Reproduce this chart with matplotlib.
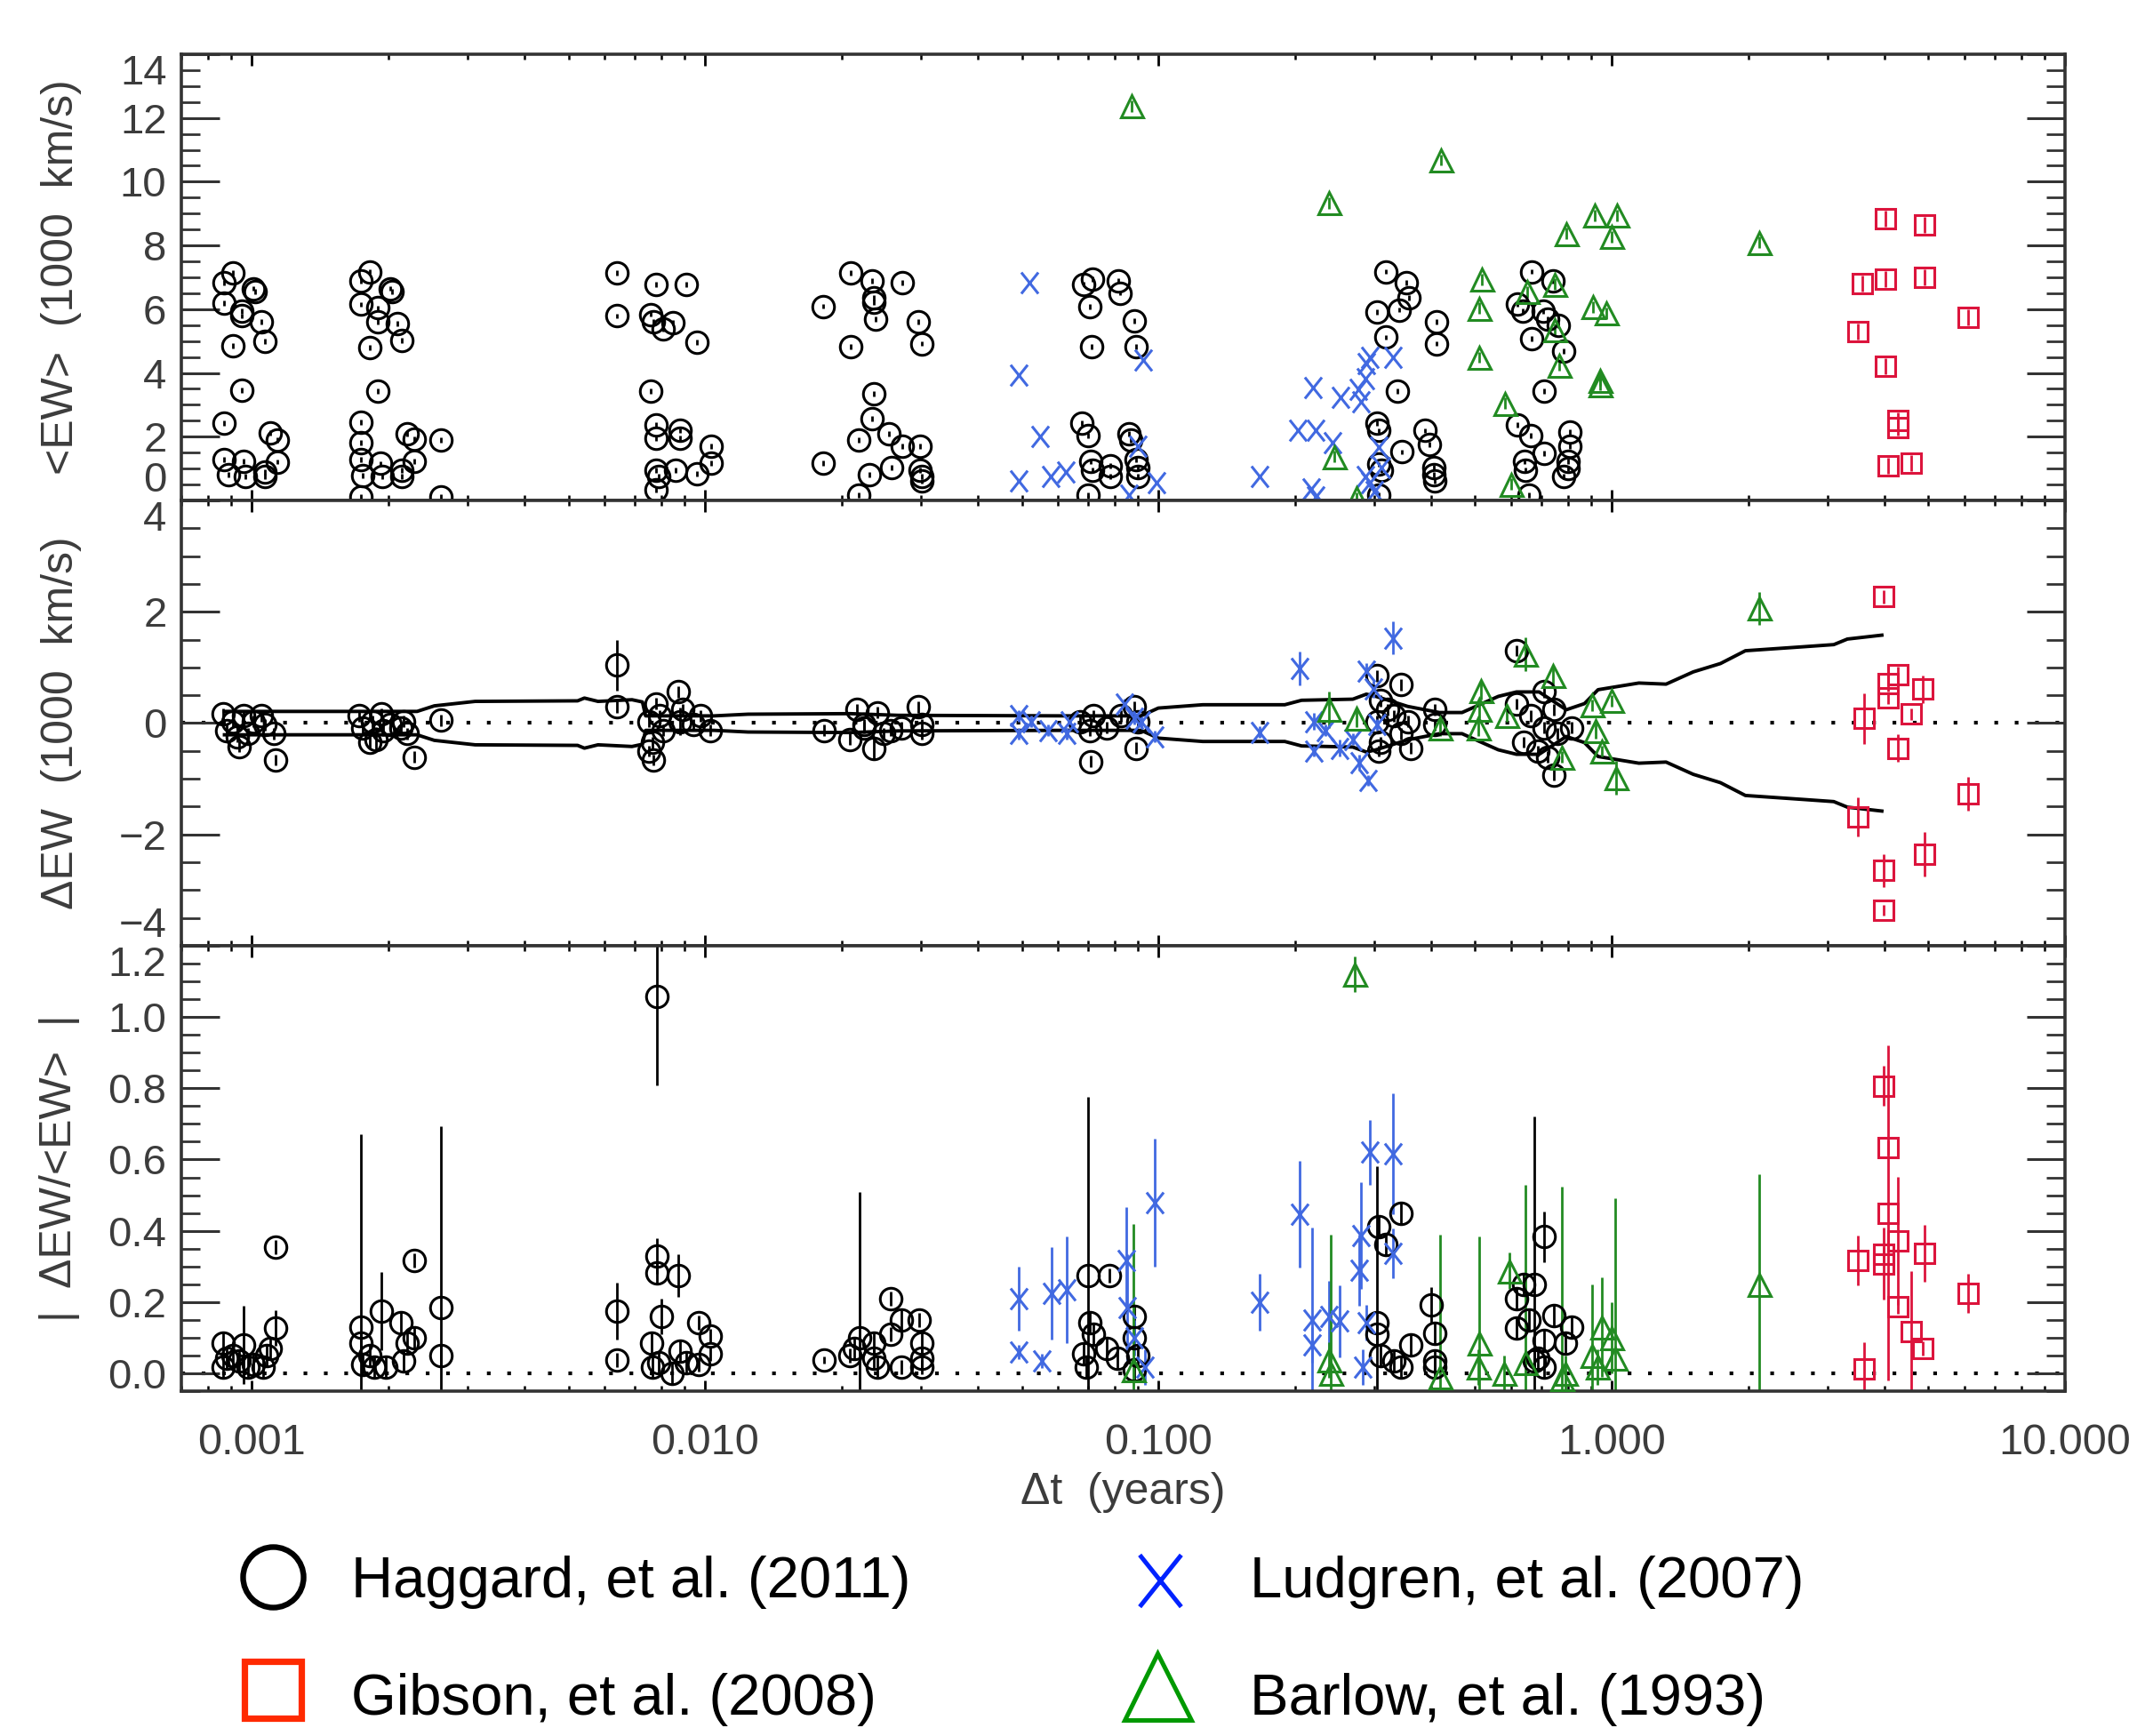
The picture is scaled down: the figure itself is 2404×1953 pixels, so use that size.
import matplotlib
matplotlib.use('Agg')
import matplotlib.pyplot as plt
from matplotlib.path import Path
from matplotlib.lines import Line2D
from matplotlib.ticker import MultipleLocator, LogLocator, NullFormatter
import numpy as np

# ---------------------------------------------------------------- data
# (dt [years], <EW> [1000 km/s])
HAGGARD_EW = [
    (0.00087, 6.84), (0.00091, 7.13), (0.00087, 6.19), (0.00101, 6.65), (0.00102, 6.55),
    (0.00095, 5.93), (0.00095, 5.79), (0.00105, 5.60), (0.00091, 4.86), (0.00107, 5.00),
    (0.00095, 3.45), (0.00087, 2.43), (0.00110, 2.12), (0.00114, 1.90), (0.00087, 1.28),
    (0.00096, 1.23), (0.00089, 0.80), (0.00097, 0.75), (0.00107, 0.89), (0.00107, 0.75),
    (0.00114, 1.21),
    (0.00174, 6.89), (0.00182, 7.18), (0.00174, 6.15), (0.00202, 6.65), (0.00204, 6.55),
    (0.00190, 6.04), (0.00190, 5.61), (0.00210, 5.55), (0.00182, 4.80), (0.00214, 5.02),
    (0.00190, 3.44), (0.00174, 2.45), (0.00220, 2.09), (0.00228, 1.92), (0.00262, 1.90),
    (0.00174, 1.82), (0.00174, 1.28), (0.00192, 1.16), (0.00176, 0.78), (0.00194, 0.75),
    (0.00214, 0.94), (0.00214, 0.75), (0.00228, 1.23), (0.00174, 0.12), (0.00262, 0.12),
    (0.0064, 7.13), (0.0064, 5.79), (0.0078, 6.77), (0.0091, 6.77), (0.0076, 5.84),
    (0.0077, 5.60), (0.0081, 5.37), (0.0085, 5.58), (0.0096, 4.97), (0.0076, 3.42),
    (0.0078, 2.38), (0.0078, 1.95), (0.0088, 2.19), (0.0088, 1.95), (0.0078, 0.94),
    (0.0079, 0.75), (0.0086, 0.94), (0.0096, 0.83), (0.0078, 0.34), (0.0103, 1.71),
    (0.0103, 1.18),
    (0.0210, 7.13), (0.0234, 6.89), (0.0272, 6.84), (0.0182, 6.09), (0.0236, 6.36),
    (0.0236, 6.22), (0.0238, 5.69), (0.0295, 5.60), (0.0210, 4.83), (0.0301, 4.92),
    (0.0236, 3.34), (0.0234, 2.57), (0.0218, 1.90), (0.0255, 2.09), (0.0272, 1.71),
    (0.0298, 1.71), (0.0182, 1.18), (0.0258, 1.04), (0.0231, 0.80), (0.0298, 0.94),
    (0.0301, 0.75), (0.0301, 0.60), (0.0218, 0.17),
    (0.0684, 6.79), (0.0716, 6.94), (0.0815, 6.89), (0.0822, 6.51), (0.0706, 6.08),
    (0.0885, 5.64), (0.0713, 4.83), (0.0893, 4.83), (0.0678, 2.43), (0.0700, 2.04),
    (0.0861, 2.09), (0.0870, 1.90), (0.0710, 1.23), (0.0715, 0.94), (0.0785, 1.08),
    (0.0785, 0.75), (0.0893, 1.28), (0.0900, 1.04), (0.0900, 0.75), (0.0700, 0.17),
    (0.318, 7.18), (0.352, 6.84), (0.357, 6.36), (0.304, 5.91), (0.340, 5.98),
    (0.411, 5.60), (0.318, 5.12), (0.411, 4.92), (0.337, 3.44), (0.304, 2.43),
    (0.307, 2.19), (0.387, 2.19), (0.396, 1.76), (0.344, 1.52), (0.307, 1.13),
    (0.310, 0.94), (0.405, 1.04), (0.405, 0.80), (0.408, 0.60), (0.307, 0.17),
    (0.667, 7.18), (0.741, 6.89), (0.619, 6.17), (0.637, 5.93), (0.705, 5.93),
    (0.721, 5.69), (0.762, 5.50), (0.667, 5.07), (0.783, 4.68), (0.708, 3.44),
    (0.619, 2.38), (0.664, 2.04), (0.807, 2.14), (0.807, 1.71), (0.708, 1.47),
    (0.643, 1.23), (0.646, 0.94), (0.800, 1.23), (0.800, 0.99), (0.783, 0.75),
    (0.658, 0.17),
]
LUDGREN_EW = [
    (0.0519, 6.84), (0.0493, 3.92), (0.0548, 2.00), (0.0493, 0.60), (0.0579, 0.75),
    (0.0624, 0.89), (0.0927, 4.40), (0.0902, 1.71), (0.0861, 0.17), (0.0991, 0.56),
    (0.167, 0.75), (0.219, 3.53), (0.252, 3.24), (0.280, 3.10), (0.276, 3.48),
    (0.286, 3.82), (0.293, 4.49), (0.329, 4.49), (0.288, 4.30), (0.203, 2.19),
    (0.222, 2.19), (0.242, 1.80), (0.217, 0.36), (0.222, 0.12), (0.286, 0.75),
    (0.293, 0.56), (0.300, 0.27), (0.307, 1.66), (0.310, 1.04),
]
BARLOW_EW = [
    (0.0873, 12.38), (0.238, 9.34), (0.421, 10.68), (0.918, 8.95), (1.026, 8.95),
    (0.793, 8.38), (0.998, 8.28), (2.118, 8.09), (0.518, 6.94), (0.750, 6.79),
    (0.652, 6.55), (0.511, 6.03), (0.910, 6.07), (0.975, 5.88), (0.511, 4.49),
    (0.767, 4.25), (0.944, 3.77), (0.944, 3.63), (0.581, 3.05), (0.244, 1.37),
    (0.600, 0.51), (0.274, 0.08), (0.750, 5.36),
]
GIBSON_EW = [
    (4.01, 8.83), (4.89, 8.65), (3.57, 6.81), (4.01, 6.94), (4.89, 6.99),
    (6.11, 5.74), (3.49, 5.31), (4.01, 4.20), (4.28, 2.52), (4.28, 2.28),
    (4.08, 1.08), (4.58, 1.18),
]
EW_ERR = {'haggard': 0.08, 'ludgren': 0.0, 'barlow': 0.18, 'gibson': 0.25}

# (dt, dEW [1000 km/s], error)
HAGGARD_DEW = [
    (0.000865, 0.16, 0.1), (0.00088, -0.13, 0.1), (0.00091, 0.03, 0.1), (0.00094, -0.42, 0.1),
    (0.00096, 0.13, 0.1), (0.00098, -0.19, 0.1), (0.00101, 0.03, 0.1), (0.00105, 0.13, 0.1),
    (0.00107, -0.03, 0.1), (0.00112, -0.19, 0.1), (0.00113, -0.66, 0.1), (0.00093, -0.24, 0.1),
    (0.00173, 0.13, 0.1), (0.00176, -0.08, 0.1), (0.00182, -0.35, 0.1), (0.00185, 0.03, 0.1),
    (0.00193, 0.16, 0.1), (0.00195, -0.13, 0.1), (0.00202, -0.03, 0.1), (0.00216, 0.03, 0.1),
    (0.00220, -0.19, 0.1), (0.00228, -0.61, 0.1), (0.00262, 0.05, 0.1), (0.00213, -0.08, 0.1),
    (0.00188, -0.29, 0.22),
    (0.0064, 1.04, 0.45), (0.0064, 0.29, 0.1), (0.00753, 0.03, 0.1), (0.00766, -0.35, 0.1),
    (0.0078, 0.35, 0.1), (0.00771, -0.66, 0.1), (0.00793, 0.13, 0.1), (0.00807, -0.13, 0.1),
    (0.00873, 0.56, 0.1), (0.00879, 0.03, 0.25), (0.00895, 0.24, 0.1), (0.00942, -0.03, 0.1),
    (0.00976, 0.13, 0.1), (0.01028, -0.13, 0.1), (0.00753, -0.50, 0.1),
    (0.0183, -0.13, 0.1), (0.0209, -0.29, 0.1), (0.0216, 0.24, 0.1), (0.0224, -0.03, 0.1),
    (0.0236, -0.45, 0.2), (0.0240, 0.19, 0.1), (0.0248, -0.19, 0.1), (0.0257, -0.13, 0.1),
    (0.0271, -0.08, 0.1), (0.0296, 0.29, 0.1), (0.0301, -0.03, 0.1), (0.0301, -0.19, 0.1),
    (0.0224, -0.08, 0.1),
    (0.0671, 0.03, 0.1), (0.0706, -0.13, 0.1), (0.0711, -0.69, 0.1), (0.0719, 0.13, 0.1),
    (0.0771, -0.08, 0.1), (0.0826, 0.13, 0.1), (0.0885, 0.29, 0.1), (0.0895, -0.45, 0.1),
    (0.0902, 0.03, 0.1),
    (0.303, 0.85, 0.1), (0.343, 0.69, 0.1), (0.309, 0.40, 0.1), (0.320, 0.24, 0.1),
    (0.331, 0.13, 0.1), (0.303, 0.03, 0.1), (0.355, 0.03, 0.1), (0.309, -0.34, 0.1),
    (0.306, -0.50, 0.1), (0.343, -0.19, 0.1), (0.361, -0.45, 0.1), (0.407, 0.24, 0.1),
    (0.407, -0.03, 0.1),
    (0.618, 1.30, 0.1), (0.710, 0.56, 0.1), (0.618, 0.34, 0.1), (0.662, 0.13, 0.1),
    (0.710, -0.08, 0.1), (0.746, 0.24, 0.1), (0.640, -0.34, 0.1), (0.686, -0.50, 0.1),
    (0.760, -0.19, 0.1), (0.815, -0.08, 0.1), (0.746, -0.93, 0.1), (0.721, -0.61, 0.1),
]
LUDGREN_DEW = [
    (0.0492, 0.13, 0.1), (0.0492, -0.19, 0.1), (0.0524, 0.03, 0.1), (0.0570, -0.13, 0.1),
    (0.0627, -0.19, 0.1), (0.0637, 0.03, 0.1), (0.0841, 0.34, 0.1), (0.0885, 0.08, 0.1),
    (0.0982, -0.24, 0.1), (0.0917, 0.03, 0.1),
    (0.167, -0.16, 0.1), (0.205, 0.98, 0.3), (0.220, 0.03, 0.15), (0.220, -0.50, 0.1),
    (0.251, -0.45, 0.15), (0.234, -0.13, 0.1), (0.288, 0.93, 0.15), (0.298, 0.61, 0.15),
    (0.329, 1.53, 0.3), (0.278, -0.71, 0.15), (0.290, -1.03, 0.1), (0.269, -0.29, 0.1),
    (0.303, -0.03, 0.1),
]
BARLOW_DEW = [
    (0.238, 0.24, 0.32), (0.274, 0.08, 0.15), (2.113, 2.06, 0.3), (0.646, 1.24, 0.3),
    (0.741, 0.85, 0.15), (0.515, 0.58, 0.15), (0.511, 0.24, 0.15), (0.507, -0.08, 0.15),
    (0.586, 0.13, 0.1), (0.904, 0.32, 0.1), (0.998, 0.40, 0.1), (0.920, -0.13, 0.15),
    (0.953, -0.50, 0.1), (0.775, -0.61, 0.1), (1.021, -0.98, 0.3), (0.419, -0.08, 0.15),
]
GIBSON_DEW = [
    (3.99, 2.27, 0.12), (4.08, 0.71, 0.15), (4.28, 0.87, 0.15), (4.08, 0.45, 0.1),
    (4.86, 0.61, 0.25), (4.58, 0.16, 0.1), (3.60, 0.08, 0.45), (4.28, -0.45, 0.25),
    (6.10, -1.27, 0.3), (3.50, -1.69, 0.35), (4.90, -2.35, 0.4), (3.99, -2.65, 0.3),
    (3.99, -3.36, 0.1),
]
# envelope of the Haggard variability (dt, half width)
ENV_DT = [0.000871, 0.002317, 0.002529, 0.003112, 0.005236, 0.005420, 0.005808,
          0.006902, 0.007278, 0.007396, 0.010471, 0.012445, 0.020893, 0.026669,
          0.063096, 0.091622, 0.1, 0.125314, 0.190108, 0.207014, 0.268534, 0.287740,
          0.301995, 0.354813, 0.416869, 0.467735, 0.562341, 0.616595, 0.691831,
          0.794328, 0.870964, 0.933254, 1.148154, 1.318257, 1.513561, 1.737801,
          1.972423, 2.630268, 3.090295, 3.311311, 3.944573]
ENV_HALF = [0.21, 0.21, 0.31, 0.39, 0.40, 0.45, 0.39, 0.42, 0.38, 0.13, 0.13, 0.16,
            0.17, 0.14, 0.13, 0.13, 0.27, 0.33, 0.33, 0.41, 0.43, 0.52, 0.48, 0.30,
            0.19, 0.19, 0.48, 0.56, 0.56, 0.24, 0.35, 0.60, 0.72, 0.70, 0.92, 1.07,
            1.30, 1.37, 1.41, 1.51, 1.58]

# (dt, |dEW/<EW>|, error)
HAGGARD_FRAC = [
    (0.000865, 0.084, 0.03), (0.000865, 0.017, 0.03), (0.00088, 0.042, 0.03), (0.00091, 0.050, 0.03),
    (0.00094, 0.034, 0.03), (0.00096, 0.080, 0.11), (0.00098, 0.017, 0.03), (0.00101, 0.026, 0.03),
    (0.00106, 0.017, 0.03), (0.00108, 0.050, 0.03), (0.00110, 0.071, 0.03), (0.00113, 0.126, 0.05),
    (0.00113, 0.354, 0.02),
    (0.00174, 0.130, 0.54), (0.00174, 0.084, 0.03), (0.00176, 0.026, 0.03), (0.00182, 0.050, 0.03),
    (0.00186, 0.017, 0.03), (0.00193, 0.175, 0.11), (0.00198, 0.017, 0.03), (0.00213, 0.142, 0.03),
    (0.00216, 0.034, 0.03), (0.00220, 0.084, 0.03), (0.00228, 0.100, 0.03), (0.00228, 0.317, 0.02),
    (0.00262, 0.184, 0.51), (0.00262, 0.050, 0.03),
    (0.0064, 0.175, 0.08), (0.0064, 0.038, 0.02), (0.00785, 1.059, 0.25), (0.00785, 0.330, 0.05),
    (0.00785, 0.283, 0.03), (0.0080, 0.159, 0.05), (0.00762, 0.084, 0.03), (0.00766, 0.017, 0.03),
    (0.0079, 0.030, 0.03), (0.00847, 0.000, 0.03), (0.00873, 0.275, 0.06), (0.00879, 0.063, 0.03),
    (0.0091, 0.030, 0.03), (0.0097, 0.142, 0.02), (0.0097, 0.026, 0.02), (0.01028, 0.105, 0.02),
    (0.01028, 0.055, 0.02),
    (0.0183, 0.038, 0.01), (0.0209, 0.050, 0.02), (0.0213, 0.071, 0.03), (0.0219, 0.100, 0.41),
    (0.0236, 0.084, 0.03), (0.0236, 0.042, 0.03), (0.0240, 0.017, 0.03), (0.0257, 0.209, 0.02),
    (0.0257, 0.109, 0.02), (0.0271, 0.150, 0.03), (0.0271, 0.017, 0.02), (0.0297, 0.150, 0.02),
    (0.0301, 0.084, 0.03), (0.0301, 0.042, 0.03), (0.0301, 0.017, 0.02),
    (0.0700, 0.275, 0.50), (0.0779, 0.275, 0.02), (0.0707, 0.142, 0.03), (0.0719, 0.109, 0.03),
    (0.0683, 0.055, 0.03), (0.0695, 0.017, 0.03), (0.0771, 0.071, 0.03), (0.0812, 0.042, 0.03),
    (0.0885, 0.159, 0.03), (0.0885, 0.100, 0.03), (0.0902, 0.050, 0.03), (0.0885, 0.010, 0.03),
    (0.306, 0.412, 0.03), (0.318, 0.362, 0.03), (0.343, 0.450, 0.03), (0.303, 0.142, 0.44),
    (0.303, 0.109, 0.03), (0.309, 0.050, 0.03), (0.331, 0.034, 0.03), (0.361, 0.080, 0.03),
    (0.343, 0.017, 0.03), (0.400, 0.192, 0.05), (0.407, 0.113, 0.03), (0.407, 0.034, 0.03),
    (0.407, 0.017, 0.03),
    (0.710, 0.383, 0.07), (0.674, 0.250, 0.47), (0.640, 0.250, 0.03), (0.618, 0.209, 0.03),
    (0.618, 0.126, 0.03), (0.656, 0.150, 0.03), (0.746, 0.163, 0.03), (0.815, 0.130, 0.03),
    (0.710, 0.092, 0.03), (0.686, 0.042, 0.03), (0.790, 0.084, 0.03), (0.710, 0.017, 0.03),
    (0.674, 0.034, 0.03),
]
LUDGREN_FRAC = [
    (0.0492, 0.209, 0.09), (0.0492, 0.059, 0.02), (0.0554, 0.034, 0.02), (0.0582, 0.225, 0.13),
    (0.0627, 0.234, 0.15), (0.0849, 0.317, 0.15), (0.0983, 0.479, 0.18), (0.0855, 0.184, 0.15),
    (0.0885, 0.100, 0.05), (0.0933, 0.017, 0.05),
    (0.167, 0.200, 0.08), (0.205, 0.446, 0.15), (0.218, 0.150, 0.26), (0.218, 0.080, 0.05),
    (0.238, 0.159, 0.10), (0.251, 0.146, 0.10), (0.278, 0.290, 0.10), (0.280, 0.387, 0.15),
    (0.293, 0.620, 0.09), (0.329, 0.616, 0.17), (0.330, 0.337, 0.07), (0.288, 0.142, 0.05),
    (0.283, 0.017, 0.05),
]
BARLOW_FRAC = [
    (0.271, 1.119, 0.05), (2.113, 0.250, 0.31), (0.596, 0.288, 0.05), (0.238, 0.038, 0.05),
    (0.240, 0.000, 0.39), (0.088, 0.010, 0.41), (0.510, 0.084, 0.30), (0.507, 0.017, 0.05),
    (0.578, 0.000, 0.05), (0.419, -0.010, 0.40), (0.904, 0.050, 0.20), (0.953, 0.130, 0.14),
    (1.000, 0.100, 0.10), (1.020, 0.042, 0.45), (0.930, 0.017, 0.05), (0.790, 0.000, 0.05),
    (0.775, -0.016, 0.54), (0.645, 0.030, 0.50),
]
GIBSON_FRAC = [
    (3.99, 0.807, 0.055), (4.08, 0.633, 0.02), (4.08, 0.450, 0.47), (4.28, 0.371, 0.18),
    (3.99, 0.333, 0.02), (3.99, 0.308, 0.10), (3.50, 0.317, 0.07), (4.90, 0.337, 0.08),
    (4.28, 0.188, 0.02), (4.58, 0.117, 0.17), (4.86, 0.069, 0.02), (6.10, 0.224, 0.055),
    (3.60, 0.012, 0.075),
]

X_TICKS = [0.001, 0.01, 0.1, 1, 10]
X_LABELS = ['0.001', '0.010', '0.100', '1.000', '10.000']
LEGEND = [('haggard', 'Haggard, et al. (2011)'), ('gibson', 'Gibson, et al. (2008)'),
          ('ludgren', 'Ludgren, et al. (2007)'), ('barlow', 'Barlow, et al. (1993)')]

# ---------------------------------------------------------------- style
FONT = 'Liberation Sans'
GREY = '#3c3c3c'
X_MARK = Path([(-0.8, -1), (0.8, 1), (-0.8, 1), (0.8, -1)],
              [Path.MOVETO, Path.LINETO, Path.MOVETO, Path.LINETO])
STYLE = {
    'haggard': dict(marker='o', color='black', ms=8.8),
    'ludgren': dict(marker=X_MARK, color='#4169e1', ms=8.6),
    'barlow': dict(marker='^', color='#228b22', ms=9.0),
    'gibson': dict(marker='s', color='#dc143c', ms=7.8),
}
LEG_STYLE = {
    'haggard': dict(marker='o', color='black', ms=24.5, mew=2.3),
    'gibson': dict(marker='s', color='#ff2a00', ms=23, mew=2.6),
    'ludgren': dict(marker=X_MARK, color='#0022ff', ms=21, mew=1.8),
    'barlow': dict(marker='^', color='#009900', ms=27, mew=1.8),
}


def draw(ax, pts, key, err=None):
    arr = np.array(pts, dtype=float)
    dt, val = arr[:, 0], arr[:, 1]
    yerr = arr[:, 2] if arr.shape[1] > 2 else np.full(len(dt), err)
    st = STYLE[key]
    if np.any(yerr > 0):
        ax.errorbar(dt, val, yerr=yerr, fmt='none', ecolor=st['color'],
                    elinewidth=1.0, capsize=0, zorder=2)
    ax.plot(dt, val, linestyle='none', marker=st['marker'], ms=st['ms'],
            mfc='none', mec=st['color'], mew=1.1, zorder=3)


fig = plt.figure(figsize=(12.02, 9.765), dpi=200)
L, R = 0.0849, 0.9663
edges = [0.96877, 0.71173, 0.45520, 0.19867]
axes = [fig.add_axes([L, edges[i + 1], R - L, edges[i] - edges[i + 1]]) for i in range(3)]

for ax in axes:
    ax.set_xscale('log')
    ax.set_xlim(7e-4, 10)
    ax.set_xticks(X_TICKS)
    ax.set_xticklabels(X_LABELS)
    ax.xaxis.set_minor_locator(LogLocator(base=10, subs=np.arange(2, 10)))
    ax.xaxis.set_minor_formatter(NullFormatter())
    ax.tick_params(axis='y', which='major', direction='in', length=15.5, width=1.1,
                   left=True, right=True, labelsize=17, labelcolor=GREY, pad=6, color='#333333')
    ax.tick_params(axis='y', which='minor', direction='in', length=7.6, width=1.0,
                   left=True, right=True, color='#333333')
    ax.tick_params(axis='x', which='major', direction='in', length=4.5, width=1.0,
                   top=True, bottom=True, labelsize=17.5, labelcolor=GREY, pad=13)
    ax.tick_params(axis='x', which='minor', direction='in', length=2.3, width=0.9,
                   top=True, bottom=True)
    for sp in ax.spines.values():
        sp.set_linewidth(1.3)
        sp.set_color('#333333')
for ax in axes[:2]:
    ax.tick_params(axis='x', labelbottom=False)

# top: <EW>
ax = axes[0]
draw(ax, HAGGARD_EW, 'haggard', EW_ERR['haggard'])
draw(ax, LUDGREN_EW, 'ludgren', EW_ERR['ludgren'])
draw(ax, BARLOW_EW, 'barlow', EW_ERR['barlow'])
draw(ax, GIBSON_EW, 'gibson', EW_ERR['gibson'])
ax.set_ylim(0, 14)
ax.set_yticks(np.arange(0, 15, 2))
ax.yaxis.set_minor_locator(MultipleLocator(0.5))

# middle: dEW
ax = axes[1]
ax.axhline(0, color='black', lw=1.5, ls=(0, (1, 4.5)), zorder=1)
env_dt = np.array(ENV_DT)
env_half = np.array(ENV_HALF)
ax.plot(env_dt, env_half, color='black', lw=1.4, zorder=2)
ax.plot(env_dt, -env_half, color='black', lw=1.4, zorder=2)
draw(ax, HAGGARD_DEW, 'haggard')
draw(ax, LUDGREN_DEW, 'ludgren')
draw(ax, BARLOW_DEW, 'barlow')
draw(ax, GIBSON_DEW, 'gibson')
ax.set_ylim(-4, 4)
ax.set_yticks([-4, -2, 0, 2, 4])
ax.set_yticklabels(['\u22124', '\u22122', '0', '2', '4'])
ax.yaxis.set_minor_locator(MultipleLocator(0.5))

# bottom: |dEW/<EW>|
ax = axes[2]
ax.axhline(0, color='black', lw=1.5, ls=(0, (1, 4.5)), zorder=1)
draw(ax, HAGGARD_FRAC, 'haggard')
draw(ax, LUDGREN_FRAC, 'ludgren')
draw(ax, BARLOW_FRAC, 'barlow')
draw(ax, GIBSON_FRAC, 'gibson')
ax.set_ylim(-0.05, 1.2)
ax.set_yticks(np.arange(0, 1.21, 0.2))
ax.set_yticklabels(['%.1f' % v for v in np.arange(0, 1.21, 0.2)])
ax.yaxis.set_minor_locator(MultipleLocator(0.05))

for ax in axes:
    for lab in ax.get_yticklabels() + ax.get_xticklabels():
        lab.set_fontfamily(FONT)
# end labels pushed inside the panel, as in the original
axes[0].get_yticklabels()[0].set_va('bottom')
axes[0].get_yticklabels()[-1].set_va('top')
axes[1].get_yticklabels()[0].set_va('bottom')
axes[1].get_yticklabels()[-1].set_va('top')
axes[2].get_yticklabels()[-1].set_va('top')

# axis titles
ylab = dict(rotation=90, ha='center', va='center', fontsize=18, color=GREY, family=FONT)
fig.text(0.0287, (edges[0] + edges[1]) / 2, '<EW>  (1000  km/s)', **ylab)
fig.text(0.0287, (edges[1] + edges[2]) / 2, '\u0394EW  (1000  km/s)', **ylab)
fig.text(0.0280, (edges[2] + edges[3]) / 2, '|  \u0394EW/<EW>  |', **ylab)
fig.text(0.5256, 0.1403, '\u0394t  (years)', ha='center', va='center',
         fontsize=18, color=GREY, family=FONT)

# legend
leg_pos = {'haggard': (0.1277, 0.0917), 'gibson': (0.1277, 0.0268),
           'ludgren': (0.5428, 0.0896), 'barlow': (0.5418, 0.0285)}
txt_pos = {'haggard': (0.1643, 0.0799), 'gibson': (0.1643, 0.0123),
           'ludgren': (0.5849, 0.0799), 'barlow': (0.5849, 0.0123)}
for key, label in LEGEND:
    st = LEG_STYLE[key]
    x, y = leg_pos[key]
    fig.add_artist(Line2D([x], [y], transform=fig.transFigure, linestyle='none',
                          marker=st['marker'], ms=st['ms'], mfc='none',
                          mec=st['color'], mew=st['mew']))
    tx, ty = txt_pos[key]
    fig.text(tx, ty, label, ha='left', va='baseline', fontsize=23.5,
             color='black', family=FONT)

fig.savefig('out.png', dpi=200)
